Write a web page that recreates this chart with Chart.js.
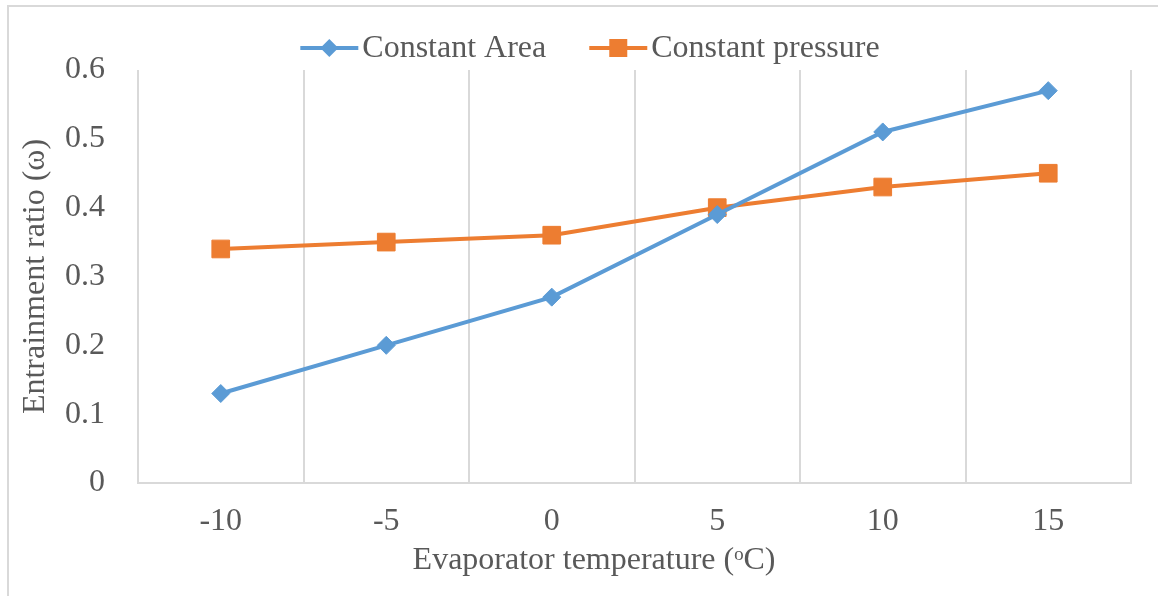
<!DOCTYPE html>
<html>
<head>
<meta charset="utf-8">
<script src="https://cdn.jsdelivr.net/npm/chart.js@4.4.0/dist/chart.umd.min.js"></script>
<style>
  html, body { margin: 0; padding: 0; background: #fff; overflow: hidden; }
  #frame { position: absolute; left: 7px; top: 5px; width: 1200px; height: 700px; border: 2px solid #d9d9d9; }
  #wrap { position: absolute; left: 0; top: 0; width: 1158px; height: 596px; }
</style>
</head>
<body>
<div id="frame"></div>
<div id="wrap"><canvas id="chart" width="1158" height="596"></canvas></div>
<script>
const temps = ['-10', '-5', '0', '5', '10', '15'];
const constantArea = [0.13, 0.20, 0.27, 0.39, 0.51, 0.57];
const constantPressure = [0.34, 0.35, 0.36, 0.40, 0.43, 0.45];
const xTitle = 'Evaporator temperature (ᵒC)';
const yTitle = 'Entrainment ratio (ω)';

const FONT = '"Liberation Serif", "Times New Roman", serif';
const TEXT = '#595959';
const GRID = '#d9d9d9';

// legend with a short line through the marker, like the series themselves,
// plus the x title centred on the whole frame rather than the plot
const extras = {
  id: 'extras',
  afterDraw(chart) {
    const ctx = chart.ctx;
    const lineLen = 58, gap = 4, itemGap = 43, y = 48;
    ctx.save();
    ctx.font = '32px ' + FONT;
    const items = chart.data.datasets.map(ds => ({ ds, w: ctx.measureText(ds.label).width }));
    const total = items.reduce((s, it) => s + lineLen + gap + it.w, 0) + itemGap * (items.length - 1);
    let x = 590 - total / 2;
    items.forEach(({ ds, w }) => {
      ctx.strokeStyle = ds.borderColor;
      ctx.fillStyle = ds.borderColor;
      ctx.lineWidth = 4;
      ctx.beginPath();
      ctx.moveTo(x, y);
      ctx.lineTo(x + lineLen, y);
      ctx.stroke();
      const cx = x + lineLen / 2;
      ctx.beginPath();
      if (ds.pointStyle === 'rect') {
        ctx.rect(cx - 9, y - 9, 18, 18);
      } else {
        ctx.moveTo(cx, y - 9);
        ctx.lineTo(cx + 9, y);
        ctx.lineTo(cx, y + 9);
        ctx.lineTo(cx - 9, y);
        ctx.closePath();
      }
      ctx.fill();
      ctx.fillStyle = TEXT;
      ctx.textBaseline = 'middle';
      ctx.textAlign = 'left';
      ctx.fillText(ds.label, x + lineLen + gap, y + 1);
      x += lineLen + gap + w + itemGap;
    });

    ctx.fillStyle = TEXT;
    ctx.textAlign = 'center';
    ctx.textBaseline = 'middle';
    ctx.fillText(xTitle, 594, 561);
    ctx.restore();
  }
};

new Chart(document.getElementById('chart'), {
  type: 'line',
  data: {
    labels: temps,
    datasets: [{
      label: 'Constant Area',
      data: constantArea,
      borderColor: '#5b9bd5',
      backgroundColor: '#5b9bd5',
      borderWidth: 4,
      pointStyle: 'rectRot',
      pointRadius: 9,
      pointBorderWidth: 1,
      tension: 0
    }, {
      label: 'Constant pressure',
      data: constantPressure,
      borderColor: '#ed7d31',
      backgroundColor: '#ed7d31',
      borderWidth: 4,
      pointStyle: 'rect',
      pointRadius: 12.5,
      pointBorderWidth: 1,
      tension: 0
    }]
  },
  options: {
    responsive: false,
    animation: false,
    layout: { padding: { left: 16, right: 27, top: 70, bottom: 16 } },
    plugins: {
      legend: { display: false },
      tooltip: { enabled: false }
    },
    scales: {
      x: {
        offset: true,
        grid: { offset: true, color: GRID, lineWidth: 2, drawTicks: false },
        border: { color: GRID, width: 2 },
        ticks: { color: TEXT, font: { family: FONT, size: 32 }, padding: 19 },
        afterFit(scale) { scale.height = 97; }
      },
      y: {
        min: 0,
        max: 0.6,
        grid: { display: false },
        border: { display: false },
        ticks: {
          stepSize: 0.1,
          color: TEXT,
          font: { family: FONT, size: 32 },
          padding: 25,
          callback: v => String(+v.toFixed(1))
        },
        title: {
          display: true,
          text: yTitle,
          color: TEXT,
          font: { family: FONT, size: 32 },
          padding: 0
        },
        afterFit(scale) { scale.width = 122; }
      }
    }
  },
  plugins: [extras]
});
</script>
</body>
</html>
